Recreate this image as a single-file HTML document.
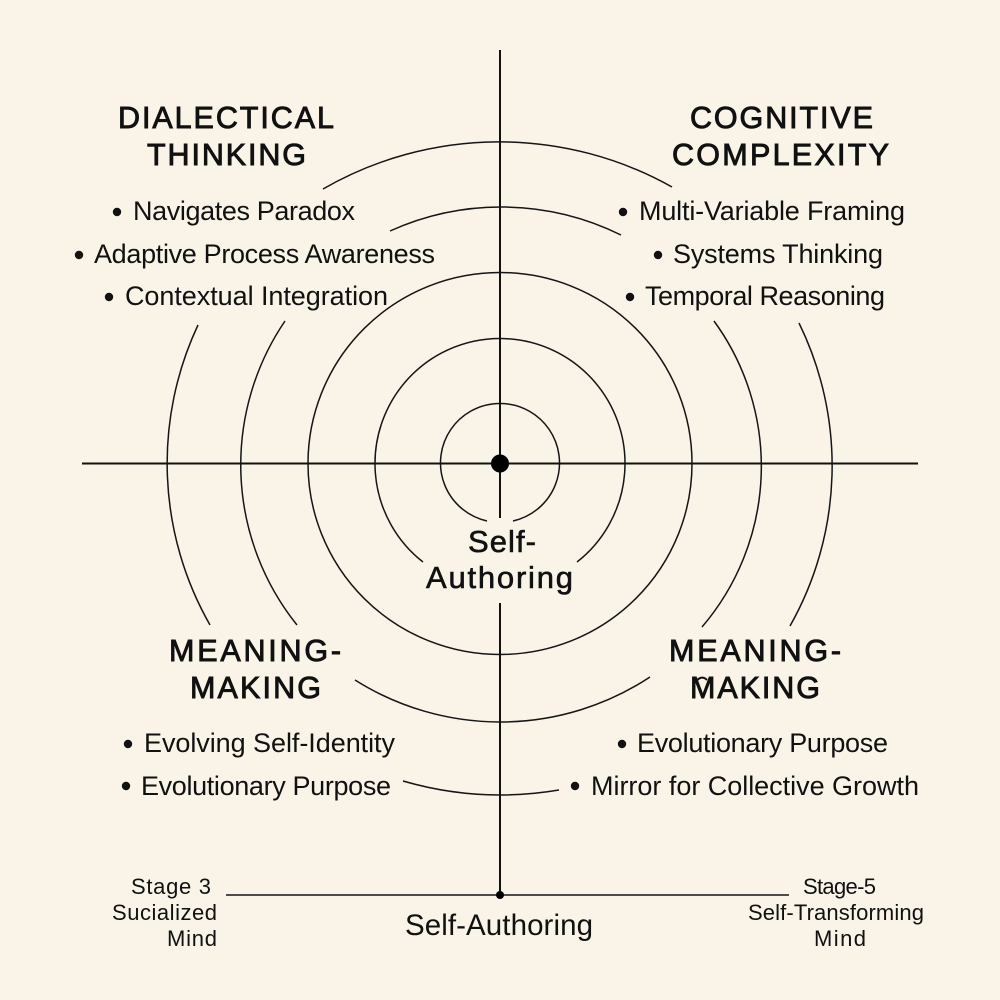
<!DOCTYPE html>
<html><head><meta charset="utf-8"><style>
html,body{margin:0;padding:0;background:#f9f3e8}
svg{display:block}
text{font-family:"Liberation Sans",sans-serif;fill:#111}
.h{font-size:30.5px;stroke:#111;stroke-width:.9px}
.b{font-size:27px}
.c{font-size:31px;stroke:#111;stroke-width:.6px}
.s{font-size:22px}
.a{fill:none;stroke:#151515;stroke-width:1.5}
.x{fill:none;stroke:#111;stroke-width:2}
</style></head><body>
<svg width="1000" height="1000" viewBox="0 0 1000 1000" xmlns="http://www.w3.org/2000/svg">
<rect width="1000" height="1000" fill="#f9f3e8"/>
<!-- rings -->
<path class="a" d="M513 521A59.5 59.5 0 1 0 487 521"/>
<path class="a" d="M423 562A125 125 0 1 1 577 562"/>
<ellipse class="a" cx="500" cy="463.5" rx="192" ry="191"/>
<path class="a" d="M390 231A270 270 0 0 1 621 235"/>
<path class="a" d="M285 321A256 256 0 0 0 297 625"/>
<path class="a" d="M714 321A247 247 0 0 1 702 627"/>
<path class="a" d="M355 680A272 272 0 0 0 650 677"/>
<path class="a" d="M323 189A353 353 0 0 1 672 187"/>
<path class="a" d="M198 325A326 326 0 0 0 210 625"/>
<path class="a" d="M799 323A325 325 0 0 1 790 626"/>
<path class="a" d="M403 781A350 350 0 0 0 559 790"/>
<!-- axes -->
<path class="x" d="M500 50V518M500 603V895M82 463.5H918"/>
<path class="a" d="M226 895H789" style="stroke-width:1.6"/>
<circle cx="500" cy="463.5" r="9" fill="#000"/>
<circle cx="500" cy="895" r="4" fill="#000"/>
<!-- headings -->
<text class="h" x="118" y="128" textLength="216">DIALECTICAL</text>
<text class="h" x="147" y="165" textLength="159">THINKING</text>
<text class="h" x="690" y="128" textLength="183">COGNITIVE</text>
<text class="h" x="672" y="165" textLength="217">COMPLEXITY</text>
<text class="h" x="169" y="661" textLength="172">MEANING-</text>
<text class="h" x="190" y="698" textLength="131">MAKING</text>
<text class="h" x="669" y="661" textLength="172">MEANING-</text>
<text class="h" x="690" y="698" textLength="130">MAKING</text>
<path d="M695 683Q701 674 707 680" fill="none" stroke="#111" stroke-width="2"/>
<!-- bullets -->
<g fill="#111">
<circle cx="117" cy="212" r="4.2"/><circle cx="79" cy="255" r="4.2"/><circle cx="109" cy="297" r="4.2"/>
<circle cx="623" cy="212" r="4.2"/><circle cx="658" cy="255" r="4.2"/><circle cx="630" cy="297" r="4.2"/>
<circle cx="128" cy="744" r="4.2"/><circle cx="126" cy="786" r="4.2"/>
<circle cx="622" cy="744" r="4.2"/><circle cx="575" cy="786" r="4.2"/>
</g>
<text class="b" x="133" y="220" textLength="222">Navigates Paradox</text>
<text class="b" x="94" y="263" textLength="341">Adaptive Process Awareness</text>
<text class="b" x="125" y="305" textLength="263">Contextual Integration</text>
<text class="b" x="639" y="220" textLength="266">Multi-Variable Framing</text>
<text class="b" x="673" y="263" textLength="210">Systems Thinking</text>
<text class="b" x="645" y="305" textLength="240">Temporal Reasoning</text>
<text class="b" x="144" y="752" textLength="251">Evolving Self-Identity</text>
<text class="b" x="141" y="795" textLength="250">Evolutionary Purpose</text>
<text class="b" x="637" y="752" textLength="251">Evolutionary Purpose</text>
<text class="b" x="591" y="795" textLength="328">Mirror for Collective Growth</text>
<!-- center -->
<text class="c" x="468" y="552" textLength="68">Self-</text>
<text class="c" x="426" y="588" textLength="147">Authoring</text>
<!-- bottom -->
<text class="s" x="131" y="894" textLength="80">Stage 3</text>
<text class="s" x="112" y="920" textLength="105">Sucialized</text>
<text class="s" x="167" y="946" textLength="50">Mind</text>
<text class="s" x="803" y="894" textLength="73">Stage-5</text>
<text class="s" x="748" y="920" textLength="176">Self-Transforming</text>
<text class="s" x="814" y="946" textLength="52">Mind</text>
<text x="405" y="935" textLength="188" style="font-size:29.5px">Self-Authoring</text>
</svg>
</body></html>
